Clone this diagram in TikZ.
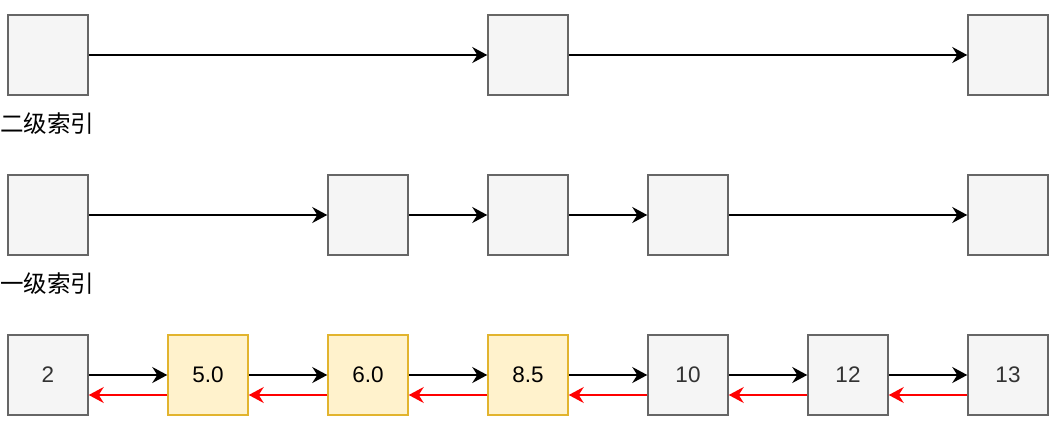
\documentclass[tikz,border=0pt]{standalone}
\usepackage{fontspec}
\setmainfont{Liberation Sans}
\newfontfamily\cjk{Noto Sans CJK SC}
\usetikzlibrary{arrows.meta}
\definecolor{grayfill}{HTML}{F5F5F5}
\definecolor{graystroke}{HTML}{666666}
\definecolor{yelfill}{HTML}{FFF2CC}
\definecolor{yelstroke}{HTML}{E2B42E}
\definecolor{txtgray}{HTML}{333333}
\definecolor{arrred}{HTML}{FF0000}
\begin{document}
\begin{tikzpicture}[x=1pt,y=1pt,
  box/.style={draw=graystroke,fill=grayfill,line width=1.5pt,minimum size=80pt,inner sep=0pt,font=\fontsize{22.5}{25}\selectfont,text=txtgray},
  ybox/.style={box,draw=yelstroke,fill=yelfill,text=black},
  fwd/.style={line width=1.5pt,-{Stealth[length=15pt,width=16pt,inset=5pt]}},
  back/.style={fwd,draw=arrred,fill=arrred},
  lbl/.style={anchor=west,inner sep=0pt,font=\cjk\fontsize{23.5}{26}\selectfont}]
\useasboundingbox (0,0) rectangle (1053,-436);
% top row
\node[box] (a1) at (48,-55) {};
\node[box] (a2) at (528,-55) {};
\node[box] (a3) at (1008,-55) {};
\draw[fwd] (a1) -- (a2);
\draw[fwd] (a2) -- (a3);
\node[lbl] (l2) at (0,-124) {二级索引};
% second row
\node[box] (b1) at (48,-215) {};
\node[box] (b2) at (368,-215) {};
\node[box] (b3) at (528,-215) {};
\node[box] (b4) at (688,-215) {};
\node[box] (b5) at (1008,-215) {};
\draw[fwd] (b1) -- (b2);
\draw[fwd] (b2) -- (b3);
\draw[fwd] (b3) -- (b4);
\draw[fwd] (b4) -- (b5);
\node[lbl] (l1) at (0,-284) {一级索引};
% bottom row
\node[box] (c1) at (48,-375) {2};
\node[ybox] (c2) at (208,-375) {5.0};
\node[ybox] (c3) at (368,-375) {6.0};
\node[ybox] (c4) at (528,-375) {8.5};
\node[box] (c5) at (688,-375) {10};
\node[box] (c6) at (848,-375) {12};
\node[box] (c7) at (1008,-375) {13};
\foreach \p/\q in {c1/c2,c2/c3,c3/c4,c4/c5,c5/c6,c6/c7}{
  \draw[fwd] (\p.east) -- (\q.west);
  \draw[back] ([yshift=-20pt]\q.west) -- ([yshift=-20pt]\p.east);
}
\end{tikzpicture}
\end{document}
